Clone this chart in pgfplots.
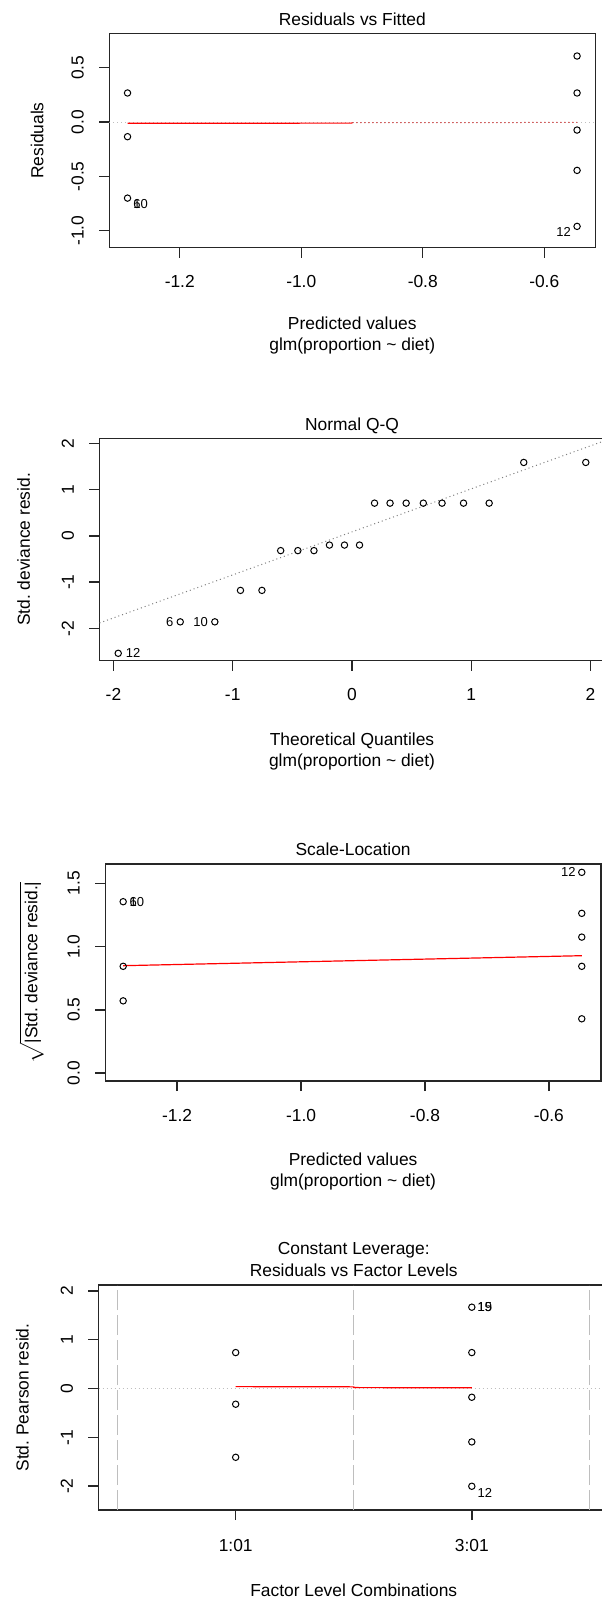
\documentclass[border=0pt]{standalone}
\usepackage{fontspec}
\setmainfont{Liberation Sans}
\usepackage{pgfplots}
\pgfplotsset{compat=1.18}
\newcommand\rfont{\fontsize{8.7pt}{10.4pt}\selectfont}
\newcommand\tfont{\fontsize{8.7pt}{11.3pt}\selectfont}
\newcommand\idfont{\fontsize{6.5pt}{7.5pt}\selectfont}
\definecolor{rgray}{HTML}{BEBEBE}
\definecolor{rgrayd}{HTML}{7F7F7F}

\pgfplotsset{
  every axis title/.style={font=\tfont, at={(0.5,1)}, anchor=base, yshift=4.1pt, align=center},
  every axis x label/.style={font=\rfont, at={(0.5,0)}, anchor=base, align=center},
  every axis y label/.style={font=\rfont, rotate=90, anchor=base},
  rdiag/.style={
    scale only axis, anchor=south west,
    axis line style={line width=0.7pt, black!85},
    every tick/.style={black!85, line width=0.7pt},
    tick align=outside, major tick length=5pt, tick pos=left,
    tick label style={font=\rfont},
    xticklabel style={anchor=base, yshift=-15pt},
    yticklabel style={xshift=-7.8pt, rotate=90, anchor=base},
  },
  pts/.style={only marks, mark=o, mark size=1.6pt, mark options={line width=0.5pt, black}},
  idlab/.style={draw=none, nodes near coords, point meta=explicit symbolic,
    every node near coord/.style={font=\idfont, inner sep=0pt, text=black, #1}},
  rdot/.style={dash pattern=on 0.5pt off 1.5pt, line width=0.5pt},
}

\begin{document}
\frenchspacing
\begin{tikzpicture}

% Residuals vs Fitted
\begin{axis}[rdiag, at={(54.65pt,-123.85pt)}, width=243pt, height=107.2pt,
  xmin=-1.316, xmax=-0.516, ymin=-1.156, ymax=0.816,
  xtick={-1.2,-1.0,-0.8,-0.6}, xticklabels={-1.2,-1.0,-0.8,-0.6},
  ytick={-1,-0.5,0,0.5}, yticklabels={-1.0,-0.5,0.0,0.5},
  title={Residuals vs Fitted}, title style={yshift=-0.4pt},
  xlabel={Predicted values\\glm(proportion \textasciitilde{} diet)},
  xlabel style={yshift=-51.5pt},
  ylabel={Residuals}, ylabel style={at={(-0.1358,0.5)}}]
\addplot[rgray, rdot] coordinates {(-1.316,0) (-0.516,0)};
\addplot[red, line width=0.6pt] coordinates {(-1.286,-0.012) (-0.916,-0.010)};
\addplot[red!80!black, rdot] coordinates {(-0.916,-0.006) (-0.546,-0.004)};
\addplot[pts] coordinates {
  (-1.286,0.267) (-1.286,-0.135) (-1.286,-0.70)
  (-0.546,0.607) (-0.546,0.267) (-0.546,-0.074) (-0.546,-0.445) (-0.546,-0.96)};
\addplot[idlab={anchor=west, xshift=2.7pt, yshift=-3pt}] coordinates {(-1.286,-0.70)[6] (-1.286,-0.70)[10]};
\addplot[idlab={anchor=east, xshift=-2.9pt, yshift=-2.7pt}] coordinates {(-0.546,-0.96)[12]};
\end{axis}

% Normal Q-Q
\begin{axis}[rdiag, at={(49.75pt,-330.35pt)}, width=252.5pt, height=111.2pt,
  xmin=-2.117, xmax=2.117, ymin=-2.70, ymax=2.108,
  xtick={-2,-1,0,1,2}, xticklabels={-2,-1,0,1,2},
  ytick={-2,-1,0,1,2}, yticklabels={-2,-1,0,1,2},
  title={Normal Q-Q},
  xlabel={Theoretical Quantiles\\glm(proportion \textasciitilde{} diet)},
  xlabel style={yshift=-52.7pt},
  ylabel={Std. deviance resid.}, ylabel style={at={(-0.1378,0.5)}}]
\addplot[rgrayd, rdot] coordinates {(-2.117,-1.884) (2.117,2.054)};
\addplot[pts] coordinates {
  (-1.960,-2.54) (-1.440,-1.86) (-1.150,-1.86) (-0.935,-1.18) (-0.755,-1.18)
  (-0.598,-0.32) (-0.454,-0.32) (-0.319,-0.32) (-0.189,-0.20) (-0.063,-0.20)
  (0.063,-0.20) (0.189,0.706) (0.319,0.706) (0.454,0.706) (0.598,0.706)
  (0.755,0.706) (0.935,0.706) (1.150,0.706) (1.440,1.586) (1.960,1.586)};
\addplot[idlab={anchor=west, xshift=3.6pt}] coordinates {(-1.960,-2.54)[12]};
\addplot[idlab={anchor=east, xshift=-3.3pt}] coordinates {(-1.440,-1.86)[6] (-1.150,-1.86)[10]};
\end{axis}

% Scale-Location
\begin{axis}[rdiag, at={(52.6pt,-540.5pt)}, width=247.9pt, height=108.5pt,
  xmin=-1.316, xmax=-0.516, ymin=-0.063, ymax=1.653,
  xtick={-1.2,-1.0,-0.8,-0.6}, xticklabels={-1.2,-1.0,-0.8,-0.6},
  ytick={0,0.5,1,1.5}, yticklabels={0.0,0.5,1.0,1.5},
  title={Scale-Location},
  xlabel={Predicted values\\glm(proportion \textasciitilde{} diet)},
  xlabel style={yshift=-52.7pt},
  ylabel={$\sqrt{\mbox{|Std. deviance resid.|}}$}, ylabel style={at={(-0.137,0.5)}}]
\addplot[red, line width=0.6pt] coordinates {(-1.287,0.849) (-0.547,0.928)};
\addplot[pts] coordinates {
  (-1.287,1.355) (-1.287,0.844) (-1.287,0.571)
  (-0.547,1.587) (-0.547,1.263) (-0.547,1.075) (-0.547,0.844) (-0.547,0.429)};
\addplot[idlab={anchor=west, xshift=3pt}] coordinates {(-1.287,1.355)[6] (-1.287,1.355)[10]};
\addplot[idlab={anchor=east, xshift=-2.85pt}] coordinates {(-0.547,1.587)[12]};
\end{axis}

% Residuals vs Factor Levels
\begin{axis}[rdiag, at={(49.25pt,-755pt)}, width=255.25pt, height=112.5pt,
  xmin=0.419, xmax=2.581, ymin=-2.49, ymax=2.123,
  xtick={1,2}, xticklabels={1:01,3:01},
  xticklabel style={yshift=-0.5pt},
  ytick={-2,-1,0,1,2}, yticklabels={-2,-1,0,1,2},
  title={Constant Leverage:\\Residuals vs Factor Levels},
  xlabel={Factor Level Combinations},
  xlabel style={yshift=-43.3pt},
  ylabel={Std. Pearson resid.}, ylabel style={at={(-0.137,0.5)}}]
\addplot[rgray, line width=0.6pt, dash pattern=on 10pt off 2.5pt] coordinates {(0.5,-2.49) (0.5,2.123)};
\addplot[rgray, line width=0.6pt, dash pattern=on 10pt off 2.5pt] coordinates {(1.5,-2.49) (1.5,2.123)};
\addplot[rgray, line width=0.6pt, dash pattern=on 10pt off 2.5pt] coordinates {(2.5,-2.49) (2.5,2.123)};
\addplot[rgray, rdot] coordinates {(0.419,0) (2.581,0)};
\addplot[red, line width=0.6pt] coordinates {(1,0.040) (1.5,0.035) (1.5,0.020) (2,0.015)};
\addplot[pts] coordinates {
  (1,0.738) (1,-0.321) (1,-1.409)
  (2,1.668) (2,0.738) (2,-0.178) (2,-1.094) (2,-2.003)};
\addplot[idlab={anchor=west, xshift=2.7pt}] coordinates {(2,1.668)[15] (2,1.668)[19]};
\addplot[idlab={anchor=west, xshift=2.7pt, yshift=-3.15pt}] coordinates {(2,-2.003)[12]};
\node[font=\rfont, anchor=base east, inner sep=0pt] at ([xshift=7.65pt, yshift=-12.2pt]rel axis cs:0,0) {diet :};
\end{axis}

\pgfresetboundingbox
\path[use as bounding box] (0,0) rectangle (300.5pt,-802pt);
\end{tikzpicture}
\end{document}
